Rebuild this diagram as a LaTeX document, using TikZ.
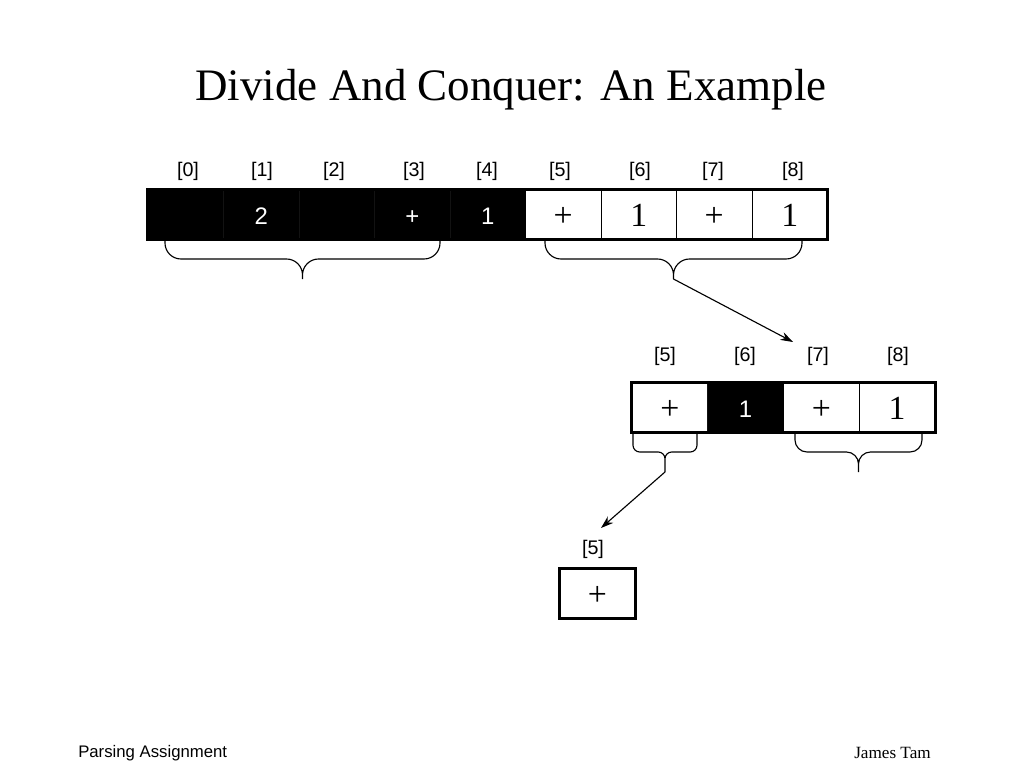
\documentclass[tikz,border=0pt]{standalone}
\usepackage{fontspec}
\setmainfont{Liberation Serif}
\setsansfont{Liberation Sans}
\usetikzlibrary{arrows.meta, positioning}

% brace under a run of cells: left x, right x, top y, corner radius
\newcommand{\splitbrace}[4]{%
    \draw[curly, rounded corners=#4] (#1,#3) -- (#1,#3+18) -- ({(#1+#2)/2},#3+18) -- ({(#1+#2)/2},#3+38)
        (#2,#3) -- (#2,#3+18) -- ({(#1+#2)/2},#3+18) -- ({(#1+#2)/2},#3+38);}

\begin{document}
\begin{tikzpicture}[
    x=0.025cm, y=-0.025cm,
    cell/.style={draw, line width=0.6pt, minimum width=1.8875cm, minimum height=1.225cm, inner sep=0pt, text height=16.8pt, text depth=0pt, font=\fontsize{24}{26}\selectfont},
    darkcell/.style={cell, fill=black, draw=black!93, text=white, text height=14.9pt, font=\sffamily\fontsize{17}{19}\selectfont},
    idx/.style={font=\sffamily\fontsize{14}{16}\selectfont},
    outline/.style={line width=2.2pt},
    curly/.style={line width=0.8pt},
    link/.style={-{Stealth[length=9pt, width=6pt]}, line width=0.8pt}
]
    \useasboundingbox (0,0) rectangle (1024,768);

    % Title
    \node[font=\fontsize{32}{36}\selectfont] (title) at (511,90) {Divide And Conquer: An Example};

    % Full array
    \node[darkcell] (a0) at (185.75,214.5) {};
    \node[darkcell] (a1) at (261.25,214.5) {2};
    \node[darkcell] (a2) at (336.75,214.5) {};
    \node[darkcell] (a3) at (412.25,214.5) {+};
    \node[darkcell] (a4) at (487.75,214.5) {1};
    \node[cell] (a5) at (563.25,214.5) {+};
    \node[cell] (a6) at (638.75,214.5) {1};
    \node[cell] (a7) at (714.25,214.5) {+};
    \node[cell] (a8) at (789.75,214.5) {1};
    \draw[outline] (a0.north west) rectangle (a8.south east);

    \node[idx] (l0) at (188,171) {[0]};
    \node[idx] (l1) at (262,171) {[1]};
    \node[idx] (l2) at (334,171) {[2]};
    \node[idx] (l3) at (414,171) {[3]};
    \node[idx] (l4) at (487,171) {[4]};
    \node[idx] (l5) at (560,171) {[5]};
    \node[idx] (l6) at (640,171) {[6]};
    \node[idx] (l7) at (713,171) {[7]};
    \node[idx] (l8) at (793,171) {[8]};

    % Split of the full array
    \splitbrace{165}{440}{241}{0.4cm}
    \splitbrace{545}{802}{241}{0.4cm}
    \coordinate (tipA) at (673.5,279);
    \coordinate (goB) at (793,342);
    \draw[link] (tipA) -- (goB);

    % Right half
    \node[cell] (b5) at (669.9,407.5) {+};
    \node[darkcell] (b6) at (745.6,407.5) {1};
    \node[cell] (b7) at (821.4,407.5) {+};
    \node[cell] (b8) at (897.1,407.5) {1};
    \draw[outline] (b5.north west) rectangle (b8.south east);

    \node[idx] (m5) at (665,356) {[5]};
    \node[idx] (m6) at (745,356) {[6]};
    \node[idx] (m7) at (818,356) {[7]};
    \node[idx] (m8) at (898,356) {[8]};

    % Split of the right half
    \splitbrace{633}{697}{434}{0.17cm}
    \splitbrace{795}{922}{434}{0.3cm}
    \coordinate (tipB) at (665,472);
    \coordinate (goC) at (601,528);
    \draw[link] (tipB) -- (goC);

    % Single element
    \node[cell] (c5) at (597.5,593.5) {+};
    \draw[outline] (c5.north west) rectangle (c5.south east);
    \node[idx] (n5) at (593,549) {[5]};

    % Footer
    \node[font=\sffamily\fontsize{11.9}{13}\selectfont, anchor=west, inner sep=0pt] (course) at (78,753) {Parsing Assignment};
    \node[font=\fontsize{12.2}{13}\selectfont, anchor=east, inner sep=0pt] (author) at (931,753) {James Tam};
\end{tikzpicture}
\end{document}
